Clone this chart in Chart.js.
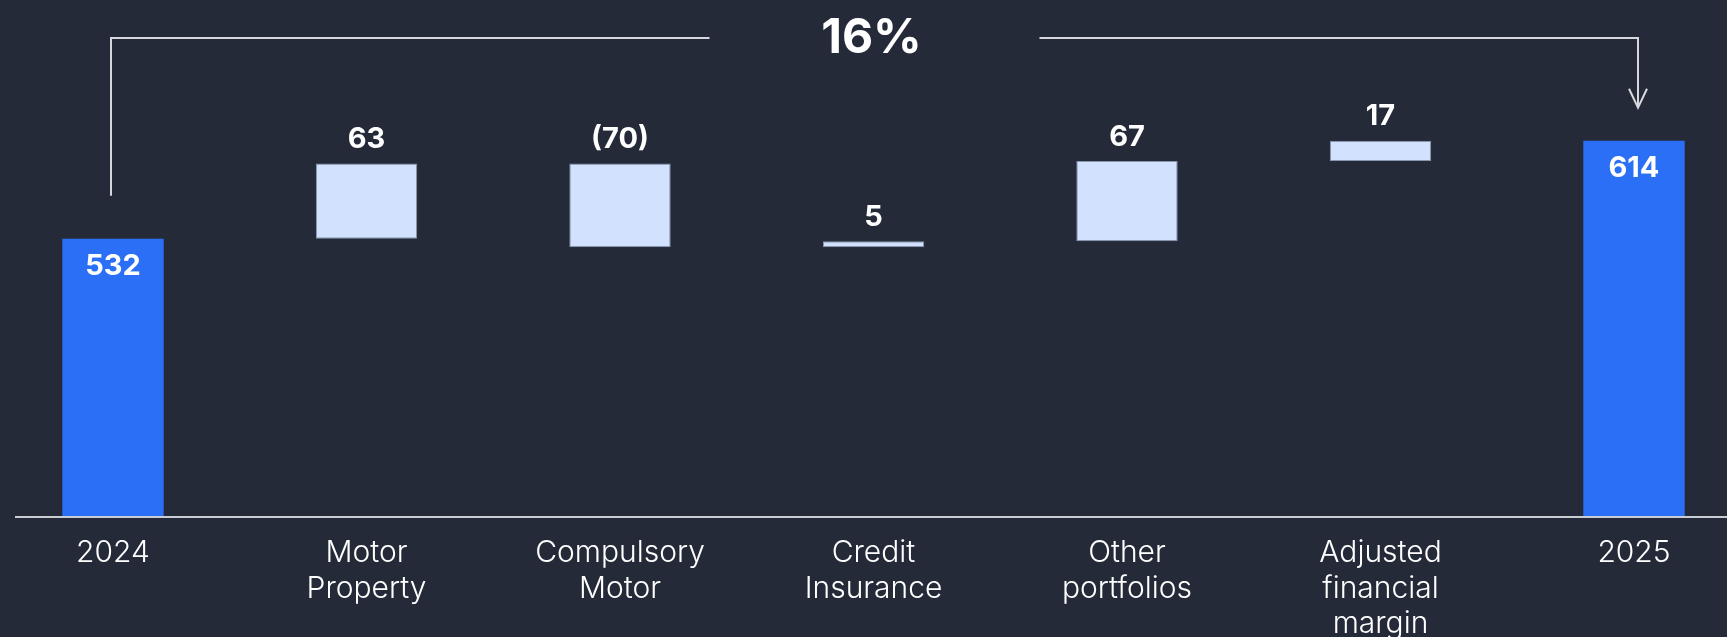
<!DOCTYPE html>
<html>
<head>
<meta charset="utf-8">
<script src="https://cdn.jsdelivr.net/npm/chart.js@4.4.1/dist/chart.umd.min.js"></script>
<style>
    html, body { margin: 0; padding: 0; background: #252a39; }
    #wrap { width: 1727px; height: 637px; position: relative; }
</style>
</head>
<body>
<div id="wrap"><canvas id="waterfall"></canvas></div>
<script>
const categories = [['2024'], ['Motor', 'Property'], ['Compulsory', 'Motor'], ['Credit', 'Insurance'], ['Other', 'portfolios'], ['Adjusted', 'financial', 'margin'], ['2025']]
const startTotal = 532
const endTotal = 614
const changes = [63, -70, 5, 67, 17]
const growthLabel = '16%'

const blue = '#2a6ff6'
const light = '#d2e1fe'

// floating bars: totals from zero, changes from the running sum
let running = startTotal
const bars = [[0, startTotal]]
changes.forEach(c => {
    bars.push([running, running + c])
    running += c
})
bars.push([0, endTotal])

const valueText = [startTotal, ...changes, endTotal].map(v => v < 0 ? '(' + Math.abs(v) + ')' : String(v))
const isTotal = bars.map((b, i) => i == 0 || i == bars.length - 1)

const labelsPlugin = {
    id: 'waterfallExtras',
    afterDatasetsDraw(chart) {
        const ctx = chart.ctx
        const meta = chart.getDatasetMeta(0)
        const x = chart.scales.x
        const area = chart.chartArea
        ctx.save()
        ctx.fillStyle = '#ffffff'
        ctx.textAlign = 'center'
        ctx.textBaseline = 'middle'
        ctx.font = '700 29px Inter'
        meta.data.forEach((bar, i) => {
            const top = Math.min(bar.y, bar.base)
            const y = isTotal[i] ? top + 28 : top - 24
            ctx.fillText(valueText[i], bar.x, y)
        })

        // baseline
        ctx.strokeStyle = '#c9ccd3'
        ctx.lineWidth = 2
        ctx.beginPath()
        ctx.moveTo(15, area.bottom + 1)
        ctx.lineTo(chart.width, area.bottom + 1)
        ctx.stroke()

        // growth bracket
        const first = meta.data[0]
        const last = meta.data[meta.data.length - 1]
        const x0 = x.getPixelForValue(0) - 2
        const x1 = x.getPixelForValue(categories.length - 1) + 4
        const yTop = area.top
        const mid = (x0 + x1) / 2
        const gap = 165
        ctx.strokeStyle = '#d6d8dd'
        ctx.lineWidth = 2
        ctx.beginPath()
        ctx.moveTo(x0, first.y - 43)
        ctx.lineTo(x0, yTop)
        ctx.lineTo(mid - gap, yTop)
        ctx.moveTo(mid + gap, yTop)
        ctx.lineTo(x1, yTop)
        ctx.lineTo(x1, last.y - 33)
        ctx.stroke()
        ctx.beginPath()
        ctx.moveTo(x1 - 9, last.y - 52)
        ctx.lineTo(x1, last.y - 33)
        ctx.lineTo(x1 + 9, last.y - 52)
        ctx.stroke()

        ctx.font = '700 48px Inter'
        ctx.fillText(growthLabel, mid - 3, yTop + 1)
        ctx.restore()
    }
}

new Chart(document.getElementById('waterfall'), {
    type: 'bar',
    data: {
        labels: categories,
        datasets: [{
            data: bars,
            backgroundColor: bars.map((b, i) => isTotal[i] ? blue : light),
            borderColor: bars.map((b, i) => isTotal[i] ? blue : '#8795ad'),
            borderWidth: bars.map((b, i) => isTotal[i] ? 0 : 1),
            borderSkipped: false,
            categoryPercentage: 1,
            barPercentage: 0.4,
            clip: { left: false, right: false, top: false, bottom: 0 }
        }]
    },
    options: {
        responsive: true,
        maintainAspectRatio: false,
        animation: false,
        layout: {
            padding: { left: 113, right: 93, top: 38, bottom: 0 }
        },
        plugins: {
            legend: { display: false },
            tooltip: { enabled: false }
        },
        scales: {
            x: {
                offset: false,
                grid: { display: false },
                border: { display: false },
                ticks: {
                    color: '#ffffff',
                    padding: 11,
                    maxRotation: 0,
                    autoSkip: false,
                    font: { family: 'Inter', size: 30, weight: 300, lineHeight: 1.19 }
                },
                afterFit(scale) {
                    scale.height = 121
                }
            },
            y: {
                display: false,
                min: 300,
                max: 700
            }
        }
    },
    plugins: [labelsPlugin]
});
</script>
</body>
</html>
